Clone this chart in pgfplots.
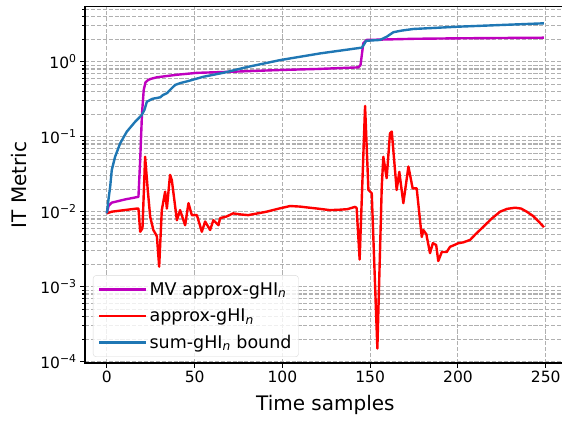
\documentclass[border=0pt]{standalone}
\usepackage{fontspec}
\setmainfont{DejaVu Sans}
\usepackage{pgfplots}
\pgfplotsset{compat=1.18}
\definecolor{mvmag}{HTML}{BF00BF}
\definecolor{tabblue}{HTML}{1F77B4}
\definecolor{gridgray}{HTML}{B0B0B0}
\begin{document}
\begin{tikzpicture}
\begin{axis}[
  at={(85pt,-6.7pt)}, anchor=north west,
  scale only axis, width=480.8pt, height=356.3pt,
  ymode=log, log basis y=10,
  xmin=-12.45, xmax=261.45, ymin=9.6e-5, ymax=5.41,
  xtick={0,50,100,150,200,250},
  ytick={1e-4,1e-3,1e-2,1e-1,1},
  yticklabels={10\textsuperscript{−4},10\textsuperscript{−3},10\textsuperscript{−2},10\textsuperscript{−1},10\textsuperscript{0}},
  minor ytick={2e-4,3e-4,4e-4,5e-4,6e-4,7e-4,8e-4,9e-4,
               2e-3,3e-3,4e-3,5e-3,6e-3,7e-3,8e-3,9e-3,
               2e-2,3e-2,4e-2,5e-2,6e-2,7e-2,8e-2,9e-2,
               0.2,0.3,0.4,0.5,0.6,0.7,0.8,0.9,2,3,4,5},
  /pgf/number format/assume math mode=true,
  xtick pos=bottom, ytick pos=left,
  tick align=outside,
  major tick length=4.9pt, minor tick length=2.8pt,
  every tick/.style={black, line width=1.1pt},
  axis line style={line width=1.1pt},
  grid=both,
  grid style={gridgray, line width=1.1pt, dash pattern=on 4.1pt off 1.8pt},
  major grid style={gridgray, line width=1.1pt, dash pattern=on 4.1pt off 1.8pt},
  minor grid style={gridgray, line width=1.1pt, dash pattern=on 4.1pt off 1.8pt},
  ticklabel style={font=\fontsize{15.5}{18}\selectfont},
  xlabel={Time samples}, ylabel={IT Metric},
  every axis y label/.style={at={(axis description cs:-0.138,0.5)}, rotate=90, anchor=center, font=\fontsize{20}{23}\selectfont},
  every axis x label/.style={at={(axis description cs:0.5,-0.118)}, anchor=center, font=\fontsize{20}{23}\selectfont},
  legend style={at={(0.0166,0.017)}, anchor=south west, draw=black!15, rounded corners=3pt,
    fill=white, fill opacity=0.8, text opacity=1, font=\fontsize{17.5}{21}\selectfont,
    row sep=8pt, inner xsep=5pt, inner ysep=5pt},
  legend cell align=left,
  legend image code/.code={\draw[#1, line width=2.4pt] (0pt,0pt) -- (37pt,0pt); \path (0pt,0pt) -- (47pt,0pt);},
]
\addplot[mvmag, line width=2.4pt, line join=round] coordinates {
(0,0.0095)(1,0.012)(2.8,0.0132)(10,0.0145)(18,0.0158)(19,0.05)(20,0.2)(21,0.42)(22,0.53)(23.5,0.57)
(25,0.59)(28.5,0.62)(40,0.67)(51.3,0.71)(75,0.74)(98.7,0.775)(120,0.80)(143.3,0.84)(144.5,0.9)
(146.1,1.76)(148,1.95)(155.6,1.97)(175,2.02)(200,2.05)(249,2.09)
};
\addlegendentry{MV approx-gHI\textsubscript{\textit{n}}}
\addplot[red, line width=2.4pt, line join=round] coordinates {
(0,0.0095)(2.8,0.010)(10,0.0105)(17,0.011)(18,0.011)(19,0.0054)(20.3,0.006)(21.8,0.054)(23.3,0.0195)
(24.7,0.0085)(26.5,0.0057)(28.5,0.0047)(29.8,0.00185)(31.3,0.0105)(33.2,0.0185)(34.2,0.011)(36,0.031)
(37,0.0265)(39.9,0.0077)(41.7,0.0105)(44.6,0.0066)(46.5,0.013)(48.4,0.009)(51.3,0.009)(54.1,0.0054)
(56,0.0074)(58.8,0.0057)(60.7,0.0077)(63.6,0.0066)(64.5,0.0082)(68,0.0086)(72,0.0095)(76,0.0092)
(80.5,0.009)(86,0.0095)(91,0.010)(98,0.011)(104.4,0.0119)(110,0.0117)(114,0.0114)(120,0.011)
(127,0.0105)(132,0.0106)(137,0.0108)(141.4,0.0116)(142.3,0.0112)(144,0.0023)(147.1,0.257)(149,0.0195)
(150.9,0.0176)(154.1,0.00015)(156.6,0.0216)(157.5,0.054)(159.4,0.028)(161.3,0.111)(162.3,0.117)
(165.1,0.0195)(166.6,0.034)(168.9,0.013)(171.8,0.040)(174.2,0.0205)(176.5,0.0205)(179.4,0.0046)
(180.3,0.0057)(182,0.005)(184.1,0.0028)(185.7,0.0038)(187.6,0.0036)(188.8,0.0022)(190.8,0.0029)
(193.6,0.0029)(195.5,0.0034)(198,0.0036)(200.2,0.0038)(203,0.0039)(206.9,0.0042)(210,0.0050)
(214.5,0.0063)(219,0.0080)(224,0.0100)(228,0.0109)(232.5,0.0113)(236,0.011)(239.2,0.0100)
(243,0.0087)(246,0.0074)(249,0.0062)
};
\addlegendentry{approx-gHI\textsubscript{\textit{n}}}
\addplot[tabblue, line width=2.4pt, line join=round] coordinates {
(0,0.0095)(0.9,0.0144)(1.9,0.0216)(2.8,0.036)(4.7,0.054)(7.6,0.0817)(11.4,0.117)(16.1,0.158)
(19.9,0.195)(21.4,0.227)(22.8,0.293)(26,0.32)(30.4,0.335)(32,0.36)(34.2,0.38)(36,0.42)(38.9,0.49)
(42,0.52)(46.5,0.553)(55,0.63)(67.4,0.72)(80,0.85)(98.7,1.05)(121.5,1.29)(145.2,1.54)(146.5,1.7)
(147.7,1.9)(155.6,1.95)(159.4,2.15)(163.2,2.47)(168,2.6)(174.6,2.73)(200.2,2.93)(249,3.25)
};
\addlegendentry{sum-gHI\textsubscript{\textit{n}} bound}
\end{axis}
\pgfresetboundingbox
\path[use as bounding box] (0,0) rectangle (562pt,-421pt);
\end{tikzpicture}
\end{document}
